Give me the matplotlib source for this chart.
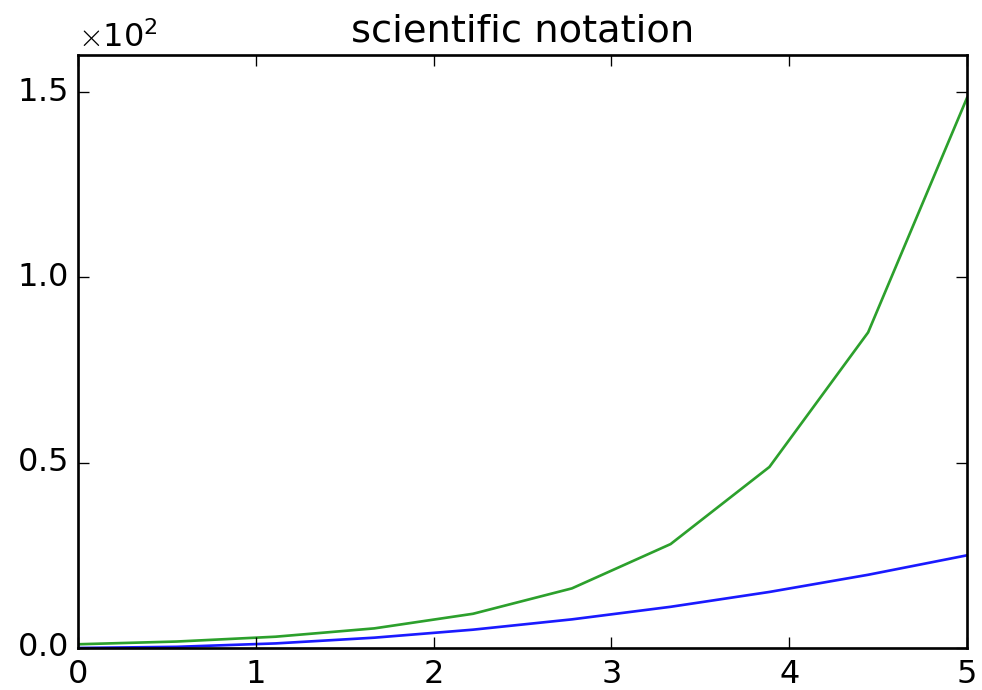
import matplotlib
matplotlib.use("Agg")
import matplotlib.pyplot as plt
from matplotlib import ticker

# values
x = [0.0, 0.556, 1.111, 1.667, 2.222, 2.778, 3.333, 3.889, 4.444, 5.0]
y_square = [0.0, 0.31, 1.23, 2.78, 4.94, 7.72, 11.11, 15.12, 19.75, 25.0]
y_exp = [1.0, 1.74, 3.04, 5.29, 9.23, 16.08, 28.03, 48.85, 85.15, 148.41]
yticks = [0, 50, 100, 150]

plt.style.use("classic")

DPI = 192
fig = plt.figure(figsize=(982 / DPI, 690 / DPI), dpi=DPI)
ax = fig.add_axes([0.0794, 0.0609, 0.9053, 0.8594])

ax.plot(x, y_square, color="#1a1aff")
ax.plot(x, y_exp, color="#2ca02c")
ax.set_title("scientific notation")
ax.set_yticks(yticks)
ax.set_ylim(0, 160)

formatter = ticker.ScalarFormatter(useMathText=True)
formatter.set_scientific(True)
formatter.set_powerlimits((-1, 1))
ax.yaxis.set_major_formatter(formatter)

fig.savefig("out.png", dpi=DPI, facecolor="white")
